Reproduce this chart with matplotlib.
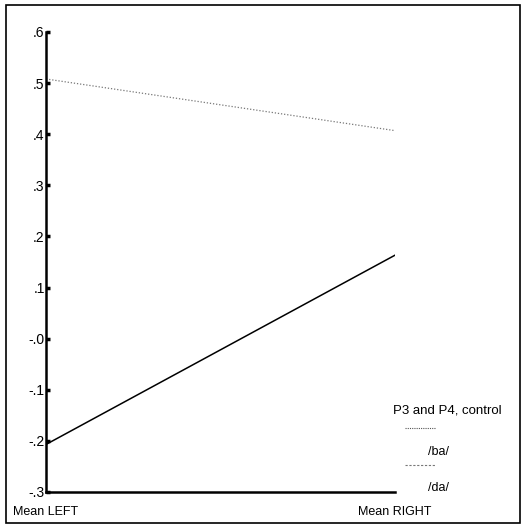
import matplotlib
matplotlib.use('Agg')
import matplotlib.pyplot as plt
from matplotlib.lines import Line2D
from matplotlib.patches import Rectangle

plt.rcParams['font.family'] = ['Liberation Sans', 'DejaVu Sans']

# data
categories = ['Mean LEFT', 'Mean RIGHT']
ba_values = [0.508, 0.407]
da_values = [-0.207, 0.163]
yticks = [-0.3, -0.2, -0.1, 0.0, 0.1, 0.2, 0.3, 0.4, 0.5, 0.6]
ytick_labels = ['-.3', '-.2', '-.1', '-.0', '.1', '.2', '.3', '.4', '.5', '.6']
legend_title = 'P3 and P4, control'
series_labels = ['/ba/', '/da/']

fig = plt.figure(figsize=(5.26, 5.29), dpi=100)
ax = fig.add_axes([0.0875, 0.070, 0.663, 0.8696])

x = range(len(categories))
ax.plot(x, ba_values, color='#777777', linestyle=(0, (1, 1.5)), linewidth=0.9)
ax.plot(x, da_values, color='black', linewidth=1.1)

ax.set_xlim(0, 1)
ax.set_ylim(-0.3, 0.6)
ax.set_yticks(yticks)
ax.set_yticklabels(ytick_labels, fontsize=10)
ax.set_xticks([0, 1])
ax.set_xticklabels(categories, fontsize=9)
ax.tick_params(axis='y', direction='in', length=3, width=2.5, pad=1)
ax.tick_params(axis='x', direction='in', length=0, pad=10)

for side in ['top', 'right']:
    ax.spines[side].set_visible(False)
ax.spines['left'].set_linewidth(1.8)
ax.spines['bottom'].set_linewidth(1.8)

# legend drawn as in the original: label above its line sample
fig.text(0.748, 0.224, legend_title, fontsize=9.5, ha='left', va='center')
fig.add_artist(Line2D([0.770, 0.828], [0.191, 0.191], color='#555555',
                      linestyle=(0, (1, 1)), linewidth=0.8))
fig.text(0.813, 0.145, series_labels[0], fontsize=9, ha='left', va='center')
fig.add_artist(Line2D([0.770, 0.828], [0.121, 0.121], color='#777777',
                      linestyle=(0, (2, 1.5)), linewidth=0.8))
fig.text(0.813, 0.078, series_labels[1], fontsize=9, ha='left', va='center')

# outer frame
fig.add_artist(Rectangle((0.011, 0.011), 0.978, 0.979, transform=fig.transFigure,
                         fill=False, edgecolor='black', linewidth=1.2))

fig.savefig('out.png', dpi=100)
